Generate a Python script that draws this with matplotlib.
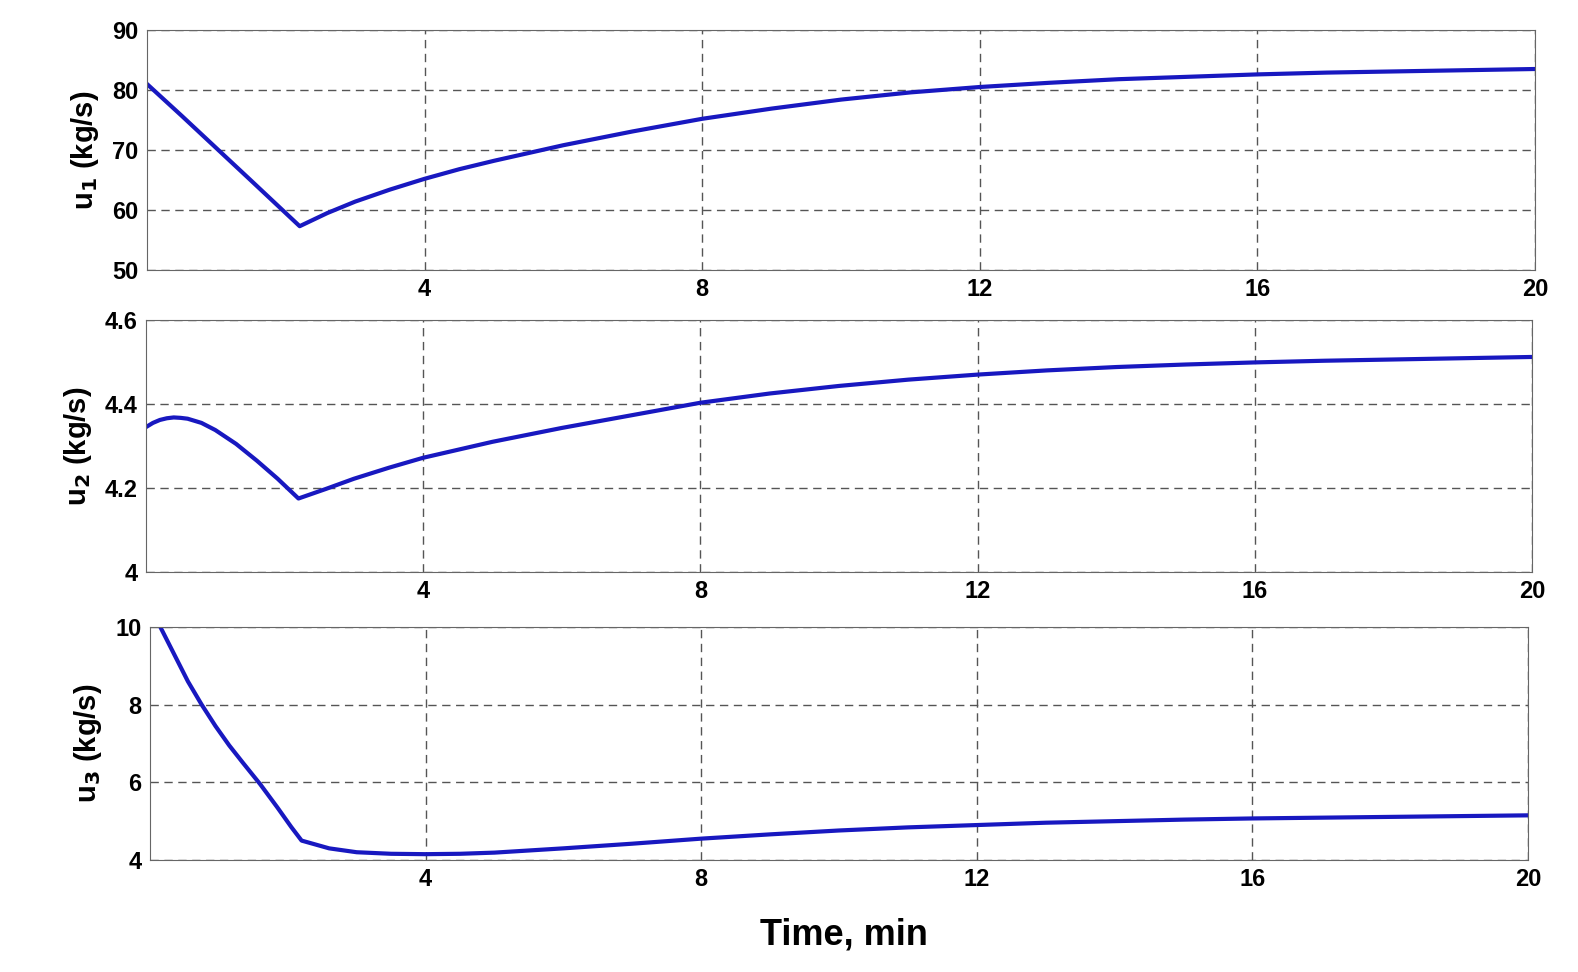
import matplotlib
matplotlib.use("Agg")
import matplotlib.pyplot as plt

plt.rcParams['font.family'] = ['Liberation Sans', 'DejaVu Sans']
plt.rcParams['font.weight'] = 'bold'

t1 = [0, 0.5, 1.0, 1.5, 2.2, 2.6, 3, 3.5, 4, 4.5, 5, 6, 7, 8, 9, 10, 11, 12, 13, 14, 15, 16, 17, 18, 19, 20]
u1 = [81, 75.7, 70.3, 64.9, 57.3, 59.5, 61.4, 63.4, 65.2, 66.8, 68.2, 70.8, 73.1, 75.2, 76.9, 78.4, 79.6, 80.5, 81.2, 81.8, 82.2, 82.6, 82.9, 83.1, 83.3, 83.5]

t2 = [0, 0.1, 0.2, 0.3, 0.4, 0.5, 0.6, 0.8, 1.0, 1.3, 1.6, 1.9, 2.2, 2.6, 3, 3.5, 4, 5, 6, 7, 8, 9, 10, 11, 12, 13, 14, 15, 16, 17, 18, 19, 20]
u2 = [4.345, 4.355, 4.362, 4.366, 4.368, 4.367, 4.365, 4.355, 4.338, 4.305, 4.265, 4.222, 4.175, 4.198, 4.222, 4.248, 4.272, 4.31, 4.343, 4.373, 4.403, 4.425, 4.443, 4.458, 4.47, 4.48, 4.488, 4.494, 4.499, 4.503, 4.506, 4.509, 4.512]

t3 = [0.15, 0.35, 0.55, 0.75, 0.95, 1.15, 1.35, 1.6, 1.85, 2.05, 2.2, 2.6, 3, 3.5, 4, 4.5, 5, 6, 7, 8, 9, 10, 11, 12, 13, 14, 15, 16, 17, 18, 19, 20]
u3 = [10.0, 9.3, 8.6, 8.0, 7.45, 6.95, 6.5, 5.95, 5.35, 4.85, 4.5, 4.3, 4.2, 4.16, 4.15, 4.16, 4.19, 4.3, 4.42, 4.55, 4.66, 4.76, 4.84, 4.9, 4.96, 5.0, 5.04, 5.07, 5.09, 5.11, 5.13, 5.15]

ylabels = ['u$_\\mathbf{1}$ (kg/s)', 'u$_\\mathbf{2}$ (kg/s)', 'u$_\\mathbf{3}$ (kg/s)']
ylims = [(50, 90), (4.0, 4.6), (4, 10)]
yticks = [[50, 60, 70, 80, 90], [4.0, 4.2, 4.4, 4.6], [4, 6, 8, 10]]
yticklabels = [['50', '60', '70', '80', '90'], ['4', '4.2', '4.4', '4.6'], ['4', '6', '8', '10']]
xticks = [4, 8, 12, 16, 20]

W, H = 1578, 972
fig = plt.figure(figsize=(W/100, H/100), dpi=100)
boxes = [(147, 30, 1535, 270), (146, 320, 1532, 572), (150, 627, 1528, 860)]
data = [(t1, u1), (t2, u2), (t3, u3)]
for i, (b, (t, u)) in enumerate(zip(boxes, data)):
    x0, y0, x1, y1 = b
    ax = fig.add_axes([x0/W, 1-y1/H, (x1-x0)/W, (y1-y0)/H])
    ax.plot(t, u, color='#1818c0', lw=3, clip_on=True)
    ax.set_xlim(0, 20)
    ax.set_ylim(*ylims[i])
    ax.set_xticks(xticks)
    ax.set_xticklabels([str(v) for v in xticks], fontsize=17, fontweight='bold')
    ax.set_yticks(yticks[i])
    ax.set_yticklabels(yticklabels[i], fontsize=17, fontweight='bold')
    ax.grid(True, ls=(0, (6, 4)), color='#555555', lw=1)
    ax.tick_params(direction='in', length=0, pad=6)
    ax.set_ylabel(ylabels[i], fontsize=21, fontweight='bold', labelpad=8)
    for s in ax.spines.values():
        s.set_color('#666666')
fig.text(0.535, 0.028, 'Time, min', ha='center', fontsize=26, fontweight='bold')
fig.savefig('out.png', dpi=100, facecolor='white')
